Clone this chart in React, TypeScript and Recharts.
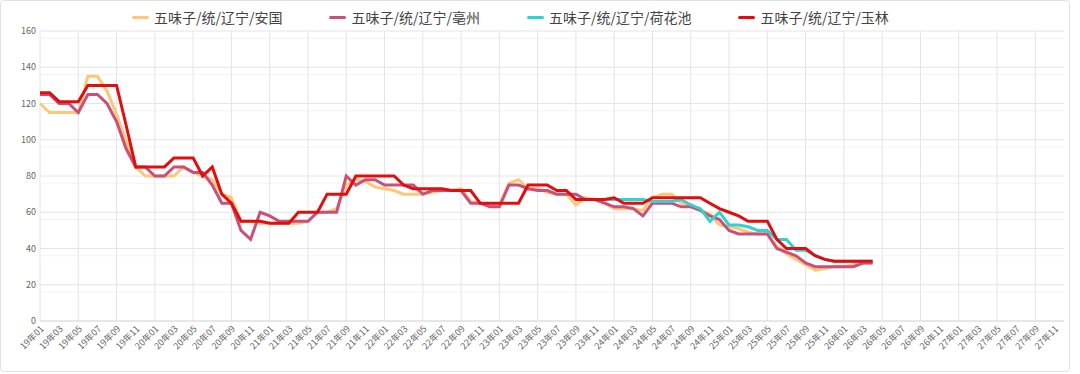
import { LineChart, Line, XAxis, YAxis, CartesianGrid } from 'recharts';

// x axis: monthly categories 19年01 .. 27年12
const years = ['19', '20', '21', '22', '23', '24', '25', '26', '27'];
const months = ['01', '02', '03', '04', '05', '06', '07', '08', '09', '10', '11', '12'];
const categories = years.flatMap((y) => months.map((m) => `${y}年${m}`));

const yTicks = [0, 20, 40, 60, 80, 100, 120, 140, 160];

// prices, starting at 19年01
const anguo = [
  120, 115, 115, 115, 115, 135, 135, 127, 114, 99,
  85, 80, 80, 80, 80, 85, 82, 80, 78, 70,
  68, 55, 55, 54, 54, 54, 54, 54, 55, 60,
  60, 62, 75, 78, 77, 74, 73, 72, 70, 70,
  70, 71, 72, 72, 73, 66, 65, 64, 64, 76,
  78, 73, 73, 71, 70, 70, 64, 68, 67, 65,
  62, 62, 62, 61, 68, 70, 70, 65, 64, 61,
  59, 53, 52, 51, 49, 48, 48, 41, 37, 34,
  31, 28, 29, 30, 30, 31, 32, 32,
];

const bozhou = [
  125, 125, 120, 120, 115, 125, 125, 120, 110, 95,
  85, 85, 80, 80, 85, 85, 82, 82, 75, 65,
  65, 50, 45, 60, 58, 55, 55, 55, 55, 60,
  60, 60, 80, 75, 78, 78, 75, 75, 75, 75,
  70, 72, 72, 72, 72, 65, 65, 63, 63, 75,
  75, 73, 72, 72, 70, 70, 70, 67, 67, 65,
  63, 63, 62, 58, 65, 65, 65, 63, 63, 61,
  58, 56, 50, 48, 48, 48, 48, 40, 38, 36,
  32, 30, 30, 30, 30, 30, 32, 32,
];

// 荷花池 only visible from 23年09 on
const hehuachiFrom = '23年09';
const hehuachi = [
  67, 67, 67, 67, 67, 67, 67, 67, 66, 66,
  66, 67, 64, 62, 55, 60, 53, 53, 52, 50,
  50, 45, 45, 39, 39, 36, 34, 33, 33, 33,
  33, 33,
];

const yulin = [
  126, 126, 121, 121, 121, 130, 130, 130, 130, 108,
  85, 85, 85, 85, 90, 90, 90, 80, 85, 70,
  65, 55, 55, 55, 54, 54, 54, 60, 60, 60,
  70, 70, 70, 80, 80, 80, 80, 80, 75, 73,
  73, 73, 73, 72, 72, 72, 65, 65, 65, 65,
  65, 75, 75, 75, 72, 72, 67, 67, 67, 67,
  68, 65, 65, 65, 68, 68, 68, 68, 68, 68,
  65, 62, 60, 58, 55, 55, 55, 45, 40, 40,
  40, 36, 34, 33, 33, 33, 33, 33,
];

const series = [
  { key: 'anguo', name: '五味子/统/辽宁/安国', color: '#fbc878' },
  { key: 'bozhou', name: '五味子/统/辽宁/亳州', color: '#c9507b' },
  { key: 'hehuachi', name: '五味子/统/辽宁/荷花池', color: '#2fd2d0' },
  { key: 'yulin', name: '五味子/统/辽宁/玉林', color: '#e00e0e' },
];

const hhStart = categories.indexOf(hehuachiFrom);
const data = categories.map((month, i) => ({
  month,
  anguo: anguo[i] ?? null,
  bozhou: bozhou[i] ?? null,
  hehuachi: i >= hhStart ? hehuachi[i - hhStart] ?? null : null,
  yulin: yulin[i] ?? null,
}));

const majorX = categories.filter((_, i) => i % 2 === 0);
const minorY: number[] = [];
for (let v = 4; v < 160; v += 4) if (v % 20 !== 0) minorY.push(v);

const font = '"Noto Sans CJK SC", "Noto Sans", sans-serif';

const Legend = () => (
  <div
    style={{
      position: 'absolute',
      top: 7,
      left: 132,
      display: 'flex',
      alignItems: 'center',
      fontFamily: font,
      fontSize: 14,
      color: '#444',
      whiteSpace: 'nowrap',
    }}
  >
    {series.map((s) => (
      <div key={s.key} style={{ display: 'flex', alignItems: 'center', marginRight: 47 }}>
        <span
          style={{
            display: 'inline-block',
            width: 17,
            height: 3,
            borderRadius: 2,
            background: s.color,
            marginRight: 5,
          }}
        />
        <span>{s.name}</span>
      </div>
    ))}
  </div>
);

export default function App() {
  return (
    <div style={{ position: 'absolute', left: 0, top: 0, width: 1080, height: 374, background: '#fff' }}>
      <div
        style={{
          position: 'absolute',
          left: 0,
          top: 0,
          width: 1068,
          height: 370,
          border: '1px solid #e2e2e2',
          borderRadius: 4,
        }}
      />
      <LineChart
        width={1080}
        height={374}
        data={data}
        margin={{ top: 31, right: 16, bottom: 3, left: 10 }}
        style={{ position: 'absolute', left: 0, top: 0, fontFamily: font }}
      >
        <CartesianGrid stroke="#f3f3f3" vertical={false} horizontalValues={minorY} />
        <CartesianGrid stroke="#e4e4e4" verticalValues={majorX} horizontalValues={yTicks} />
        <XAxis
          dataKey="month"
          interval={1}
          angle={-45}
          textAnchor="end"
          height={50}
          tickLine={false}
          axisLine={{ stroke: '#dcdcdc' }}
          tick={{ fontSize: 9, fill: '#666' }}
          tickMargin={2}
          tickSize={2}
        />
        <YAxis
          width={30}
          domain={[0, 160]}
          ticks={yTicks}
          tickLine={false}
          axisLine={false}
          tick={{ fontSize: 9, fill: '#666' }}
          tickSize={2}
          tickMargin={2}
        />
        {series.map((s) => (
          <Line
            key={s.key}
            type="linear"
            dataKey={s.key}
            name={s.name}
            stroke={s.color}
            strokeWidth={3}
            dot={false}
            isAnimationActive={false}
          />
        ))}
      </LineChart>
      <Legend />
    </div>
  );
}
